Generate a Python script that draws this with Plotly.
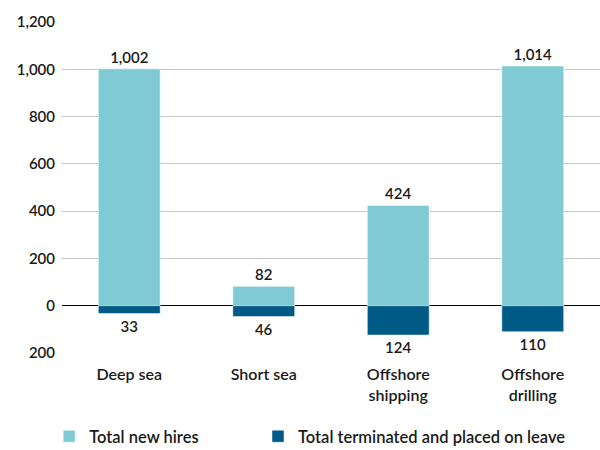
import plotly.graph_objects as go

categories = ["Deep sea", "Short sea", "Offshore<br>shipping", "Offshore<br>drilling"]
new_hires = [1002, 82, 424, 1014]
terminated = [33, 46, 124, 110]

tick_vals = [-200, 0, 200, 400, 600, 800, 1000, 1200]
tick_text = ["200", "0", "200", "400", "600", "800", "1,000", "1,200"]

light = "#80CBD3"
dark = "#005A86"
font_family = "Lato, 'Open Sans', sans-serif"
txt = dict(family=font_family, size=15, color="#1a1a1a", weight=600)

fig = go.Figure()

fig.add_trace(go.Bar(
    x=categories,
    y=new_hires,
    name="Total new hires",
    marker=dict(color=light),
    text=[f"{v:,}" for v in new_hires],
    textposition="outside",
    cliponaxis=False,
    width=0.46,
    legend="legend",
))

fig.add_trace(go.Bar(
    x=categories,
    y=[-v for v in terminated],
    name="Total terminated and placed on leave",
    marker=dict(color=dark),
    text=[f"{v:,}" for v in terminated],
    textposition="outside",
    cliponaxis=False,
    width=0.46,
    legend="legend2",
))

# two legends so the second entry can sit where the reference has it
leg = dict(
    orientation="h",
    xref="container", xanchor="left",
    y=0.03, yref="container", yanchor="middle",
    font=dict(txt, size=16.5),
    bgcolor="rgba(0,0,0,0)",
)

fig.update_layout(
    width=600, height=450,
    barmode="overlay",
    template="plotly_white",
    plot_bgcolor="white",
    paper_bgcolor="white",
    font=txt,
    margin=dict(l=62, r=0, t=22, b=97, autoexpand=False),
    showlegend=True,
    legend=dict(leg, x=0.082),
    legend2=dict(leg, x=0.43),
    uniformtext=dict(minsize=15, mode="show"),
)

fig.update_traces(textfont=txt)

fig.update_xaxes(
    range=[-0.5, 3.5],
    showgrid=False,
    showline=False,
    ticks="",
    ticklabelstandoff=10,
    tickfont=dict(txt, size=16),
    automargin=False,
)

fig.update_yaxes(
    range=[-200, 1200],
    tickvals=tick_vals,
    ticktext=tick_text,
    showgrid=True,
    gridcolor="#c8c8c8",
    gridwidth=1,
    zeroline=True,
    zerolinecolor="#000000",
    zerolinewidth=1,
    ticks="",
    ticklabelstandoff=6,
    tickfont=txt,
    automargin=False,
)

# page has a default 8px body margin, drop it so the chart sits at 0,0
fig.write_html(
    "out.html",
    config={"displayModeBar": False},
    post_script="document.body.style.margin='0';",
)
